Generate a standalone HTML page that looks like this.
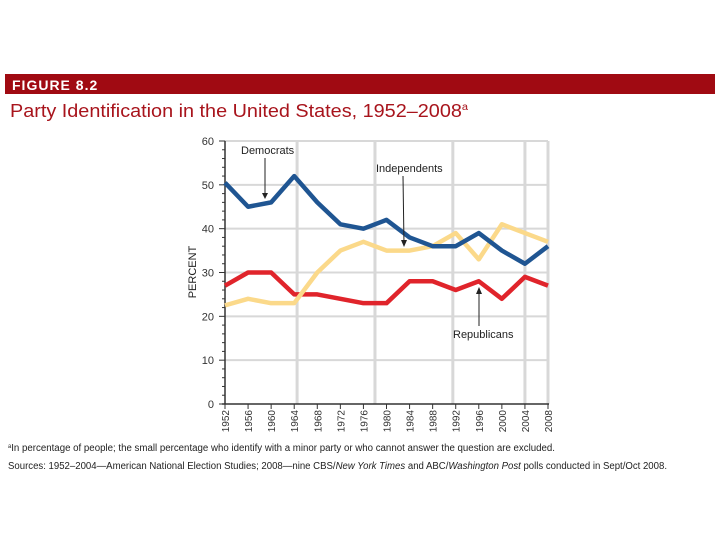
<!DOCTYPE html>
<html><head><meta charset="utf-8"><style>
html,body{margin:0;padding:0;background:#fff;}
svg{display:block;font-family:"Liberation Sans",sans-serif;}
</style></head><body>
<svg width="720" height="540" viewBox="0 0 720 540">
<rect x="5" y="74" width="710" height="20" fill="#a00a12"/>
<text x="12" y="90" fill="#fff" font-size="14" font-weight="bold" letter-spacing="1">FIGURE 8.2</text>
<text x="10" y="117" fill="#a8141c" font-size="18" textLength="458" lengthAdjust="spacingAndGlyphs">Party Identification in the United States, 1952–2008<tspan font-size="10" dy="-7">a</tspan></text>
<g id="grid"></g>
<g id="axes"></g>
<g id="series"></g>
<g id="annot">
<text x="241" y="154" font-size="11" fill="#222">Democrats</text>
<line x1="265" y1="158" x2="265" y2="197" stroke="#222" stroke-width="1"/>
<polygon points="262,193 268,193 265,199" fill="#222"/>
<text x="376" y="172" font-size="11" fill="#222">Independents</text>
<line x1="403" y1="176" x2="404" y2="245" stroke="#222" stroke-width="1"/>
<polygon points="401,240 407,240 404,247" fill="#222"/>
<text x="453" y="338" font-size="11" fill="#222">Republicans</text>
<line x1="479" y1="326" x2="479" y2="290" stroke="#222" stroke-width="1"/>
<polygon points="476,294 482,294 479,287" fill="#222"/>
</g>
<text transform="translate(196,272) rotate(-90)" text-anchor="middle" font-size="11" fill="#222">PERCENT</text>
<text x="8" y="451" font-size="10" fill="#222" textLength="547" lengthAdjust="spacingAndGlyphs"><tspan font-size="6" dy="-3">a</tspan><tspan dy="3">In percentage of people; the small percentage who identify with a minor party or who cannot answer the question are excluded.</tspan></text>
<text x="8" y="469" font-size="10" fill="#222" textLength="659" lengthAdjust="spacingAndGlyphs">Sources: 1952–2004—American National Election Studies; 2008—nine CBS/<tspan font-style="italic">New York Times</tspan> and ABC/<tspan font-style="italic">Washington Post</tspan> polls conducted in Sept/Oct 2008.</text>
</svg>
<script>
const years=[1952,1956,1960,1964,1968,1972,1976,1980,1984,1988,1992,1996,2000,2004,2008];
const democrats=[50.5,45,46,52,46,41,40,42,38,36,36,39,35,32,36];
const independents=[22.5,24,23,23,30,35,37,35,35,36,39,33,41,39,37];
const republicans=[27,30,30,25,25,24,23,23,28,28,26,28,24,29,27];
const yTicks=[0,10,20,30,40,50,60];
const NS="http://www.w3.org/2000/svg";
function X(y){return 225+(y-1952)*(323/56);}
function Y(v){return 404-v*(263/60);}
function mk(t,a,p){const e=document.createElementNS(NS,t);for(const k in a)e.setAttribute(k,a[k]);p.appendChild(e);return e;}
const grid=document.getElementById('grid'),axes=document.getElementById('axes'),ser=document.getElementById('series');
yTicks.forEach(v=>{if(v>0){const l=mk('line',{x1:225,x2:548,y1:Y(v),y2:Y(v),stroke:'#d8d8d8','stroke-width':2},grid);

}
const t=mk('text',{x:214,y:Y(v)+4,'text-anchor':'end','font-size':11,fill:'#333'},axes);t.textContent=v;

});
[1964.5,1978,1991.5,2004,2008].forEach(yr=>{const l=mk('line',{x1:X(yr),x2:X(yr),y1:Y(60),y2:404,stroke:'#d8d8d8','stroke-width':3},grid);

});
mk('line',{x1:222,x2:549,y1:404,y2:404,stroke:'#333','stroke-width':1.5},axes);
mk('line',{x1:225,x2:225,y1:Y(60),y2:404,stroke:'#333','stroke-width':1.5},axes);
for(let v=0;v<=60;v+=2){mk('line',{x1:225,x2:v%10==0?219:222,y1:Y(v),y2:Y(v),stroke:'#333','stroke-width':1},axes);}
years.forEach(yr=>{mk('line',{x1:X(yr),x2:X(yr),y1:404,y2:409,stroke:'#333'},axes);
const t=mk('text',{transform:`translate(${X(yr)+4},410) rotate(-90)`,'text-anchor':'end','font-size':10,fill:'#333'},axes);t.textContent=yr;

});
function line(vals,col,name){const p=mk('polyline',{points:vals.map((v,i)=>X(years[i])+','+Y(v)).join(' '),fill:'none',stroke:col,'stroke-width':4.5,'stroke-linejoin':'round'},ser);

}
line(republicans,'#e0242b','republicans-line');
line(independents,'#fbd98a','independents-line');
line(democrats,'#1f5592','democrats-line');
</script>
</body></html>
